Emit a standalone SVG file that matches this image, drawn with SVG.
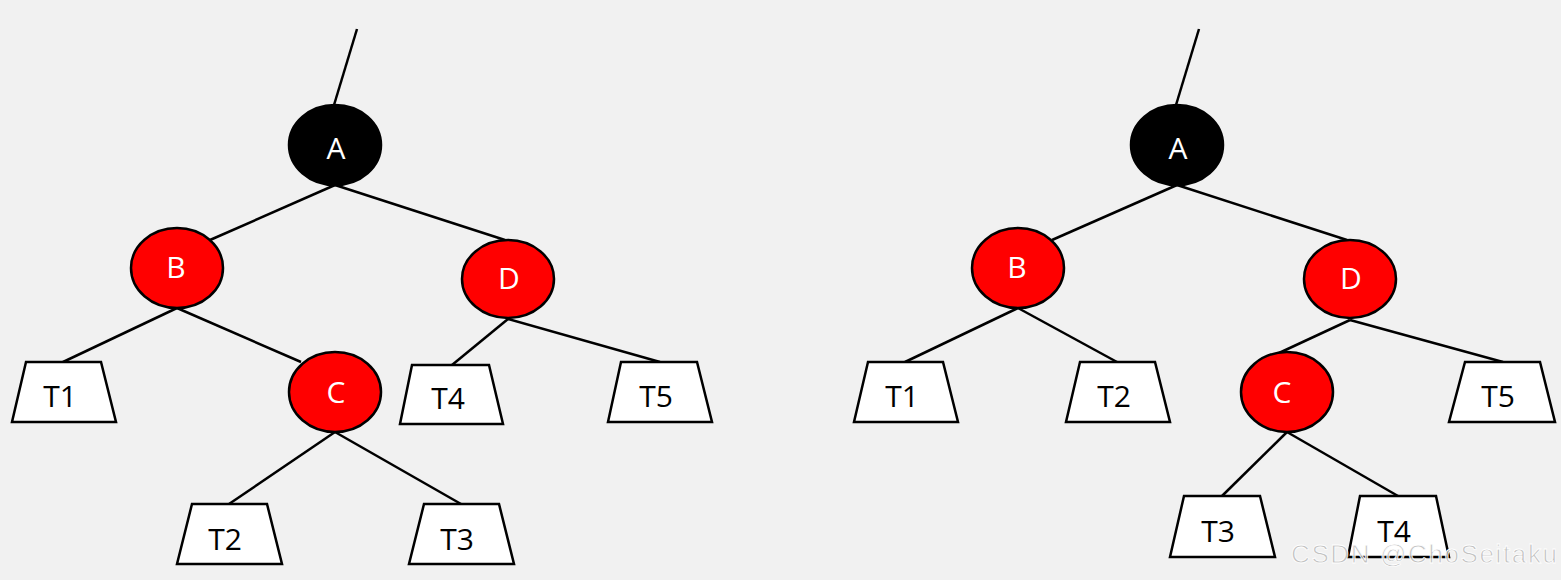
<svg xmlns="http://www.w3.org/2000/svg" width="1561" height="580" viewBox="0 0 1561 580">
<style>
.edge{stroke:#000;stroke-width:2.5;fill:none}
.blk{fill:#000;stroke:#000;stroke-width:2.5}
.red{fill:#ff0000;stroke:#000;stroke-width:2.5}
.sub{fill:#fff;stroke:#000;stroke-width:2.5;stroke-linejoin:miter}
.lw{font-family:"Open Sans","Noto Sans",sans-serif;font-size:30px;fill:#fff;text-anchor:middle}
.lb{font-family:"Open Sans","Noto Sans",sans-serif;font-size:30px;fill:#000;text-anchor:middle}
.wm{font-family:"Liberation Sans",Arial,sans-serif;font-size:26px;fill:#b4b4b4;fill-opacity:0.8;stroke:#fff;stroke-width:0.8}
</style>
<rect width="1561" height="580" fill="#f1f1f1"/>
<g id="connectors">
<line class="edge" x1="357" y1="29" x2="334" y2="105"/>
<line class="edge" x1="335" y1="185" x2="210" y2="240"/>
<line class="edge" x1="335" y1="185" x2="505" y2="240"/>
<line class="edge" x1="177" y1="308" x2="63" y2="362"/>
<line class="edge" x1="177" y1="308" x2="301" y2="362"/>
<line class="edge" x1="508" y1="319" x2="452" y2="365"/>
<line class="edge" x1="508" y1="319" x2="660" y2="362"/>
<line class="edge" x1="335" y1="432" x2="229" y2="504"/>
<line class="edge" x1="335" y1="432" x2="461" y2="504"/>
<line class="edge" x1="1199" y1="29" x2="1176" y2="105"/>
<line class="edge" x1="1177" y1="185" x2="1052" y2="240"/>
<line class="edge" x1="1177" y1="185" x2="1347" y2="240"/>
<line class="edge" x1="1018" y1="308" x2="905" y2="362"/>
<line class="edge" x1="1018" y1="308" x2="1117" y2="362"/>
<line class="edge" x1="1350" y1="320" x2="1279" y2="353"/>
<line class="edge" x1="1350" y1="320" x2="1503" y2="362"/>
<line class="edge" x1="1287" y1="432" x2="1222" y2="496"/>
<line class="edge" x1="1287" y1="432" x2="1398" y2="496"/>
</g>
<g id="L_A"><ellipse class="blk" cx="335" cy="145" rx="46" ry="40"/><text class="lw" x="336" y="159">A</text></g>
<g id="L_B"><ellipse class="red" cx="177" cy="268" rx="46" ry="40"/><text class="lw" x="176" y="278">B</text></g>
<g id="L_D"><ellipse class="red" cx="508" cy="279" rx="46" ry="39"/><text class="lw" x="509" y="289">D</text></g>
<g id="L_C"><ellipse class="red" cx="335" cy="392" rx="46" ry="40"/><text class="lw" x="336" y="403">C</text></g>
<g id="L_T1"><polygon class="sub" points="26,362 101,362 116,422 12,422"/><text class="lb" x="60" y="407">T1</text></g>
<g id="L_T4"><polygon class="sub" points="412,365 489,365 503,424 400,424"/><text class="lb" x="448" y="409">T4</text></g>
<g id="L_T5"><polygon class="sub" points="621,362 697,362 712,422 608,422"/><text class="lb" x="656" y="407">T5</text></g>
<g id="L_T2"><polygon class="sub" points="192,504 267,504 282,564 177,564"/><text class="lb" x="225" y="550">T2</text></g>
<g id="L_T3"><polygon class="sub" points="424,504 499,504 514,564 409,564"/><text class="lb" x="457" y="550">T3</text></g>
<g id="R_A"><ellipse class="blk" cx="1177" cy="145" rx="46" ry="40"/><text class="lw" x="1178" y="159">A</text></g>
<g id="R_B"><ellipse class="red" cx="1018" cy="268" rx="46" ry="40"/><text class="lw" x="1017" y="278">B</text></g>
<g id="R_D"><ellipse class="red" cx="1350" cy="279" rx="46" ry="39"/><text class="lw" x="1351" y="289">D</text></g>
<g id="R_C"><ellipse class="red" cx="1287" cy="392" rx="46" ry="40"/><text class="lw" x="1282" y="403">C</text></g>
<g id="R_T1"><polygon class="sub" points="868,362 943,362 958,422 854,422"/><text class="lb" x="902" y="407">T1</text></g>
<g id="R_T2"><polygon class="sub" points="1080,362 1155,362 1170,422 1066,422"/><text class="lb" x="1114" y="407">T2</text></g>
<g id="R_T5"><polygon class="sub" points="1465,362 1540,362 1555,422 1449,422"/><text class="lb" x="1498" y="407">T5</text></g>
<g id="R_T3"><polygon class="sub" points="1184,496 1260,496 1275,557 1170,557"/><text class="lb" x="1218" y="542">T3</text></g>
<g id="R_T4"><polygon class="sub" points="1360,496 1436,496 1449,557 1348,557"/><text class="lb" x="1394" y="542">T4</text></g>
<text class="wm" x="1291" y="563" textLength="266">CSDN @ChoSeitaku</text>
</svg>
